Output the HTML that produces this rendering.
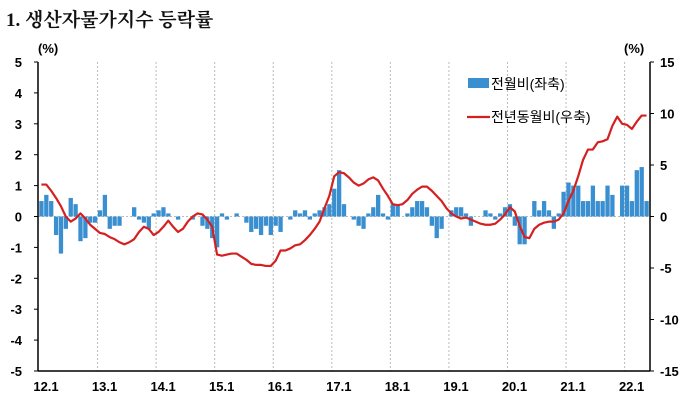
<!DOCTYPE html>
<html><head><meta charset="utf-8"><style>
body{margin:0;background:#fff;width:699px;height:404px;overflow:hidden}
</style></head><body>
<svg id="s" width="699" height="404" xmlns="http://www.w3.org/2000/svg" font-family="Liberation Sans, Noto Sans CJK KR, sans-serif">
<text x="6" y="26" font-size="19" font-family="Liberation Serif, Noto Serif CJK SC, Noto Sans CJK KR, serif" font-weight="bold" fill="#111">1. 생산자물가지수 등락률</text>
<text x="38" y="53" font-size="13" font-weight="bold">(%)</text>
<text x="624" y="53" font-size="13" font-weight="bold">(%)</text>
<g id="g"></g>
</svg>
<script>
const bars=[0.5,0.7,0.5,-0.6,-1.2,-0.4,0.6,0.4,-0.8,-0.7,-0.2,-0.2,
0.2,0.7,-0.4,-0.3,-0.3,0,0,0.3,-0.1,-0.2,-0.4,0.1,
0.2,0.3,0.1,0,-0.1,0,0,-0.1,0,-0.3,-0.4,-0.7,
-1.0,0.1,-0.1,0,0.1,0,-0.2,-0.5,-0.4,-0.6,-0.3,-0.6,
-0.3,-0.5,0,-0.1,0.2,0.1,0.2,-0.1,0.1,0.2,0.3,0.4,
0.9,1.5,0.4,0,-0.1,-0.3,-0.4,0.1,0.3,0.7,0.1,-0.1,
0.4,0.4,0,0.1,0.3,0.5,0.5,0.3,-0.3,-0.7,-0.4,0,
0.2,0.3,0.3,0.1,-0.3,0,0,0.2,0.1,-0.1,0.1,0.3,
0.4,-0.3,-0.9,-0.9,0,0.5,0.2,0.5,0.2,-0.4,0.1,0.8,
1.1,1.0,1.0,0.5,0.5,1.0,0.5,0.5,1.0,0.7,0,1.0,
1.0,0.5,1.5,1.6,0.5];
const line=[3.1,3.1,2.5,1.8,1.0,0,-0.5,-0.2,0.3,-0.2,-0.8,-1.2,
-1.6,-1.7,-2.0,-2.2,-2.5,-2.7,-2.5,-2.2,-1.5,-1.0,-1.2,-1.8,
-1.5,-1.0,-0.4,-1.0,-1.5,-1.2,-0.5,0,0.3,0.2,-0.3,-1.0,
-3.7,-3.8,-3.7,-3.6,-3.6,-3.9,-4.2,-4.6,-4.7,-4.7,-4.8,-4.8,
-4.3,-3.3,-3.3,-3.1,-2.8,-2.7,-2.3,-1.8,-1.2,-0.5,0.8,2.0,
3.9,4.3,4.2,3.8,3.3,3.0,3.2,3.6,3.8,3.5,2.7,2.0,
1.2,1.1,1.2,1.6,2.2,2.6,2.9,2.9,2.5,2.0,1.5,0.8,
0.3,0,-0.2,-0.1,-0.3,-0.5,-0.7,-0.8,-0.8,-0.7,-0.3,0.2,
0.9,0.5,-0.9,-2.0,-2.1,-1.2,-0.8,-0.6,-0.5,-0.5,-0.3,0.3,
1.5,2.5,3.9,5.5,6.5,6.5,7.2,7.3,7.5,8.8,9.7,9.0,
8.9,8.5,9.2,9.8,9.8];
const X0=39,M=4.88,Y0=216.5,TOP=62,BOT=371,L=38,R=650;
const yl=v=>Y0-v*30.9, yr=v=>Y0-v*10.3;
let h='';
for(let k=1;k<11;k++){const x=X0+k*12*M;h+=`<line x1="${x}" y1="${TOP}" x2="${x}" y2="${BOT}" stroke="#bbb" stroke-dasharray="2,2"/>`;}
h+=`<line x1="${L}" y1="${Y0}" x2="${R}" y2="${Y0}" stroke="#bbb" stroke-dasharray="2,2"/>`;
bars.forEach((v,i)=>{const x=X0+i*M+0.3;const y=yl(Math.max(v,0));h+=`<rect x="${x}" y="${y}" width="4.3" height="${Math.abs(v)*30.9}" fill="#3a8fd0"/>`;});
h+=`<polyline fill="none" stroke="#d42020" stroke-width="2.2" stroke-linejoin="round" points="${line.map((v,i)=>(X0+i*M+2.4)+','+yr(v)).join(' ')}"/>`;
h+=`<line x1="${L}" y1="${TOP}" x2="${L}" y2="${BOT}" stroke="#000" stroke-width="1.5"/>`;
h+=`<line x1="${R}" y1="${TOP}" x2="${R}" y2="${BOT}" stroke="#000" stroke-width="1.5"/>`;
h+=`<line x1="${L}" y1="${BOT}" x2="${R}" y2="${BOT}" stroke="#000" stroke-width="1.5"/>`;
for(let v=5;v>=-5;v--){const y=yl(v);h+=`<text x="22" y="${y+5}" font-size="13" font-weight="bold" text-anchor="end">${v}</text><line x1="${L-4}" y1="${y}" x2="${L}" y2="${y}" stroke="#000"/>`;}
for(let v=15;v>=-15;v-=5){const y=yr(v);h+=`<text x="660" y="${y+5}" font-size="13" font-weight="bold">${v}</text><line x1="${R}" y1="${y}" x2="${R+4}" y2="${y}" stroke="#000"/>`;}
['12.1','13.1','14.1','15.1','16.1','17.1','18.1','19.1','20.1','21.1','22.1'].forEach((t,k)=>{h+=`<text x="${X0+k*12*M+7}" y="391" font-size="13" font-weight="bold" text-anchor="middle">${t}</text>`;});
h+=`<rect x="468" y="78" width="21" height="10" fill="#3a8fd0"/><text x="491" y="89" font-size="14">전월비(좌축)</text>`;
h+=`<line x1="467" y1="117" x2="490" y2="117" stroke="#d42020" stroke-width="2.2"/><text x="491" y="122" font-size="14">전년동월비(우축)</text>`;
document.getElementById('g').innerHTML=h;
</script>
</body></html>
